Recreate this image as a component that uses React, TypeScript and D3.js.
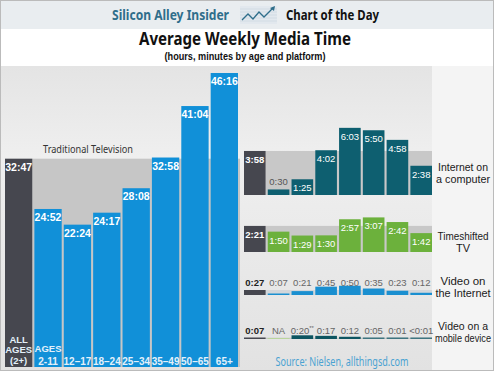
import React from "react";
import { scaleBand, scaleLinear } from "d3";

// ages, all-ages column first
const categories = ["ALL", "2-11", "12–17", "18–24", "25–34", "35–49", "50–65", "65+"];
const tvTimes = ["32:47", "24:52", "22:24", "24:17", "28:08", "32:58", "41:04", "46:16"];
const internetTimes = ["3:58", "0:30", "1:25", "4:02", "6:03", "5:50", "4:58", "2:38"];
const timeshiftedTimes = ["2:21", "1:50", "1:29", "1:30", "2:57", "3:07", "2:42", "1:42"];
const videoNetTimes = ["0:27", "0:07", "0:21", "0:45", "0:50", "0:35", "0:23", "0:12"];
const mobileTimes = ["0:07", "NA", "0:20**", "0:17", "0:12", "0:05", "0:01", "<0:01"];

const panelLabels = [
  ["Internet on", "a computer"],
  ["Timeshifted", "TV"],
  ["Video on", "the Internet"],
  ["Video on a", "mobile device"],
];
// measured widths of the panel captions in the reference
const panelLabelWidths = [
  [50, 54],
  [51, 0],
  [45, 55],
  [50, 56],
];

const toHours = (s: string) => {
  if (s === "NA") return 0;
  const [h, m] = s.replace(/[^0-9:]/g, "").split(":").map(Number);
  return h + m / 60;
};

const W = 494;
const H = 371;
const blue = "#1190d8";
const dark = "#46474f";
const teal = "#0e5f70";
const green = "#6cb13c";
const font = "'Noto Sans', 'Open Sans', sans-serif";
const narrow = "'Liberation Sans Narrow', 'Liberation Sans', sans-serif";

export default function App() {
  const x = scaleBand<number>().domain(categories.map((_, i) => i)).range([5, 238]).paddingInner(0.07);
  const y = scaleLinear().domain([0, toHours("46:16")]).range([367, 73]);
  const xr = scaleBand<number>().domain(categories.map((_, i) => i)).range([244, 432]).paddingInner(0.09);
  const hr = scaleLinear().domain([0, 1]).range([0, 11.1]);

  const panels = [
    { vals: internetTimes, base: 195, color: teal, inside: true },
    { vals: timeshiftedTimes, base: 252, color: green, inside: true },
    { vals: videoNetTimes, base: 295, color: "#1a8fd0", inside: false, labelY: 286 },
    { vals: mobileTimes, base: 339, color: "#0d5561", inside: false, labelY: 334 },
  ];
  const labelYs = [[171, 183], [240, 252], [285, 297], [330, 342]];

  const allTop = y(toHours(tvTimes[0]));

  return (
    <svg width={W} height={H} style={{ position: "absolute", left: 0, top: 0 }} fontFamily={font}>
      <defs>
        <linearGradient id="bg" x1="0" y1="0" x2="0" y2="1">
          <stop offset="0" stopColor="#e4e4e4" />
          <stop offset="0.3" stopColor="#efefef" />
          <stop offset="1" stopColor="#e2e2e2" />
        </linearGradient>
      </defs>
      <rect width={W} height={H} fill="#fff" />
      {/* header */}
      <rect width={W} height={29} fill="#e9edf0" />
      <text x={112} y={20} fontSize={15} fontWeight="bold" fill="#2f6e8b" textLength={117} lengthAdjust="spacingAndGlyphs">
        Silicon Alley Insider
      </text>
      <g>
        <rect x={240} y={6} width={37} height={18} fill="#e2e8ee" />
        {[9, 12, 15, 18, 21].map((ly) => (
          <line key={ly} x1={240} x2={277} y1={ly} y2={ly} stroke="#c9d4de" strokeWidth={0.6} />
        ))}
        <polyline points="242,20 248,14 253,19 259,12 264,17 273,8" fill="none" stroke="#2f6e8b" strokeWidth={1.3} />
        <polygon points="275,6 270,8 274,11" fill="#2f6e8b" />
      </g>
      <text x={286} y={20} fontSize={15} fontWeight="bold" fill="#111" textLength={93} lengthAdjust="spacingAndGlyphs">
        Chart of the Day
      </text>
      <text x={245} y={45} textAnchor="middle" fontSize={18} fontWeight="bold" fill="#111" textLength={212} lengthAdjust="spacingAndGlyphs">
        Average Weekly Media Time
      </text>
      <text x={245} y={60} textAnchor="middle" fontSize={11} fontWeight="bold" fill="#111" fontFamily={narrow} textLength={161} lengthAdjust="spacingAndGlyphs">
        (hours, minutes by age and platform)
      </text>

      {/* chart background */}
      <rect x={0} y={66} width={W} height={H - 66} fill="url(#bg)" />
      <rect x={432} y={66} width={62} height={H - 66} fill="#f4f4f4" />
      <rect x={x(1)! - 2} y={allTop} width={240 - x(1)! + 2} height={367 - allTop} fill="#c6c6c6" />
      <text x={43} y={153} fontSize={11} fill="#333" textLength={90} lengthAdjust="spacingAndGlyphs">
        Traditional Television
      </text>

      {/* traditional tv bars */}
      {tvTimes.map((t, i) => {
        const top = y(toHours(t));
        const cx = x(i)! + x.bandwidth() / 2;
        return (
          <g key={i}>
            <rect x={x(i)} y={top} width={x.bandwidth()} height={367 - top} fill={i === 0 ? dark : blue} />
            <text x={cx} y={top + 12} textAnchor="middle" fontSize={10.5} fontFamily={narrow} fontWeight="bold" fill="#fff">
              {t}
            </text>
          </g>
        );
      })}
      {/* age labels */}
      <g fontSize={9.5} fontFamily={narrow} fontWeight="bold" fill="#e3f0fa" textAnchor="middle">
        <text x={x(0)! + x.bandwidth() / 2} y={343}>ALL</text>
        <text x={x(0)! + x.bandwidth() / 2} y={353}>AGES</text>
        <text x={x(0)! + x.bandwidth() / 2} y={364}>(2+)</text>
        <text x={x(1)! + x.bandwidth() / 2} y={352}>AGES</text>
        {categories.slice(1).map((c, k) => (
          <text key={c} x={x(k + 1)! + x.bandwidth() / 2} y={365} fontSize={10}>
            {c}
          </text>
        ))}
      </g>

      {/* right panels */}
      {panels.map((p, pi) => {
        const allH = hr(toHours(p.vals[0]));
        return (
          <g key={pi}>
            <rect x={xr(1)! - 2} y={p.base - allH} width={432 - xr(1)! + 2} height={allH} fill={pi === 2 ? "#d2d6da" : "#c8c8c8"} />
            {p.vals.map((v, i) => {
              const h = Math.max(hr(toHours(v)), v === "NA" ? 1 : 1.5);
              const top = p.base - h;
              const cx = xr(i)! + xr.bandwidth() / 2;
              let fill = i === 0 ? dark : p.color;
              if (v === "NA") fill = "#b9d59c";
              if (pi === 3 && i > 4) fill = "#3e7580";
              const ly = p.inside ? (h < 14 ? top - 4 : top + 12) : p.labelY!;
              const lfill = p.inside ? (h < 14 ? "#555" : "#fff") : i === 0 ? "#222" : "#666";
              const star = v.endsWith("**");
              return (
                <g key={i}>
                  <rect x={xr(i)} y={top} width={xr.bandwidth()} height={h} fill={fill} />
                  <text x={cx} y={ly} textAnchor="middle" fontSize={9.5} fontFamily={narrow}
                    fontWeight={i === 0 ? "bold" : "normal"} fill={lfill}>
                    {star ? v.slice(0, -2) : v}
                    {star && <tspan fontSize={6} dy={-4}>**</tspan>}
                  </text>
                </g>
              );
            })}
            <g fontSize={pi === 3 ? 10 : 11} fill="#1a1a1a" textAnchor="middle" fontFamily="'Liberation Sans', sans-serif">
              {panelLabels[pi].map((l, li) => {
                const w = panelLabelWidths[pi][li];
                return (
                  <text key={li} x={463} y={labelYs[pi][li]}
                    {...(w ? { textLength: w, lengthAdjust: "spacingAndGlyphs" } : {})}>
                    {l}
                  </text>
                );
              })}
            </g>
          </g>
        );
      })}

      <text x={342} y={366} textAnchor="middle" fontSize={12} fill="#4aa2d2" textLength={133} lengthAdjust="spacingAndGlyphs">
        Source: Nielsen, allthingsd.com
      </text>
      <rect x={0.5} y={0.5} width={W - 1} height={H - 1} fill="none" stroke="#bbb" />
    </svg>
  );
}
